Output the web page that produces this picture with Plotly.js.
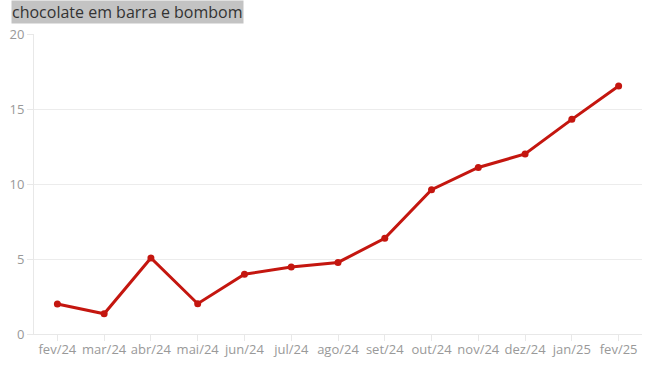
<!DOCTYPE html>
<html>
<head>
<meta charset="utf-8">
<script src="https://cdn.plot.ly/plotly-3.0.1.min.js"></script>
<style>html,body{margin:0;padding:0;background:#fff}#chart{width:670px;height:373px}</style>
</head>
<body>
<div id="chart"></div>
<script>
const months = ["fev/24","mar/24","abr/24","mai/24","jun/24","jul/24","ago/24","set/24","out/24","nov/24","dez/24","jan/25","fev/25"];
const values = [2.0, 1.35, 5.07, 2.02, 3.98, 4.47, 4.77, 6.38, 9.62, 11.1, 12.0, 14.31, 16.53];
const yTicks = [0, 5, 10, 15, 20];
const chartTitle = "chocolate em barra e bombom";

Plotly.newPlot("chart", [{
  x: months, y: values, type: "scatter", mode: "lines+markers",
  line: {color: "#c4160f", width: 3},
  marker: {color: "#c4160f", size: 7},
  hoverinfo: "x+y"
}], {
  width: 670, height: 373,
  margin: {l: 34, r: 28, t: 34, b: 39},
  paper_bgcolor: "#fff", plot_bgcolor: "#fff",
  showlegend: false,
  font: {family: "Open Sans, sans-serif", color: "#999", size: 13},
  xaxis: {
    type: "category", range: [-0.5, 12.5],
    showgrid: false, ticks: "outside", ticklen: 6, tickcolor: "#e8e8e8",
    showline: true, linecolor: "#e8e8e8", linewidth: 1,
    ticklabelstandoff: -3,
    tickfont: {size: 13, color: "#999"}, fixedrange: true
  },
  yaxis: {
    range: [0, 20], tickvals: yTicks, ticktext: yTicks.map(String),
    showgrid: true, gridcolor: "#ececec", zeroline: false,
    ticks: "outside", ticklen: 6, tickcolor: "#e8e8e8",
    showline: true, linecolor: "#e8e8e8", linewidth: 1,
    tickfont: {size: 13, color: "#999"}, fixedrange: true
  },
  annotations: [{
    text: chartTitle, xref: "paper", yref: "paper",
    x: 0, y: 1.0, xanchor: "left", yanchor: "bottom",
    xshift: -23, yshift: 10,
    showarrow: false, bgcolor: "#c3c3c3",
    font: {size: 16, color: "#333"}, borderpad: 0
  }]
}, {displayModeBar: false, staticPlot: true});
</script>
</body>
</html>
